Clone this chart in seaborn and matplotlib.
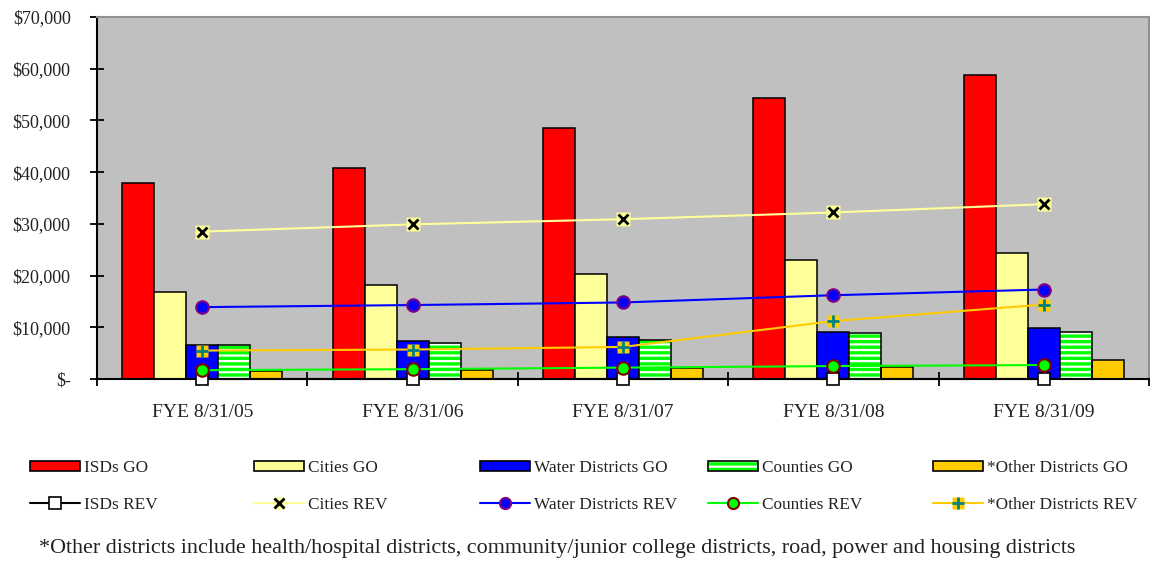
import numpy as np
import pandas as pd
import matplotlib
matplotlib.use("Agg")
import matplotlib.pyplot as plt
from matplotlib.patches import Patch, Rectangle
from matplotlib.lines import Line2D
from matplotlib.ticker import FuncFormatter, MultipleLocator, FixedLocator
import seaborn as sns

# ---- data (thousands of dollars) ----
years = ["FYE 8/31/05", "FYE 8/31/06", "FYE 8/31/07", "FYE 8/31/08", "FYE 8/31/09"]

isds_go = [37900, 40800, 48600, 54300, 58700]
cities_go = [16800, 18200, 20400, 23000, 24400]
water_go = [6600, 7300, 8100, 9100, 9800]
counties_go = [6600, 7000, 7600, 8800, 9000]
other_go = [1500, 1700, 2100, 2400, 3700]

isds_rev = [0, 0, 0, 0, 0]
cities_rev = [28500, 29900, 30900, 32200, 33800]
water_rev = [13900, 14300, 14800, 16200, 17300]
counties_rev = [1700, 1900, 2200, 2500, 2700]
other_rev = [5500, 5700, 6200, 11200, 14400]

go_names = ["ISDs GO", "Cities GO", "Water Districts GO", "Counties GO", "*Other Districts GO"]
rev_names = ["ISDs REV", "Cities REV", "Water Districts REV", "Counties REV", "*Other Districts REV"]
footnote = ("*Other districts include health/hospital districts, community/junior college "
            "districts, road, power and housing districts")

# ---- styling ----
RED, LYELLOW, BLUE, GREEN, GOLD = "#FF0000", "#FFFF99", "#0000FF", "#00FF00", "#FFCC00"
TXT = "#222222"

sns.set_style("ticks")
plt.rcParams["font.family"] = ["Liberation Serif", "DejaVu Serif"]
plt.rcParams["hatch.linewidth"] = 2.4

go_series = [isds_go, cities_go, water_go, counties_go, other_go]
df = pd.DataFrame({
    "year": np.repeat([years], len(go_names), axis=0).ravel(),
    "series": np.repeat(go_names, len(years)),
    "value": np.concatenate(go_series),
})

fig = plt.figure(figsize=(11.5, 5.61), dpi=100)
ax = fig.add_axes([97 / 1150, 1 - 379 / 561, (1149 - 97) / 1150, (379 - 17) / 561])
ax.set_facecolor("#C0C0C0")

palette = dict(zip(go_names, [RED, LYELLOW, BLUE, "white", GOLD]))
sns.barplot(data=df, x="year", y="value", hue="series", hue_order=go_names, order=years,
            palette=palette, saturation=1, width=0.76, edgecolor="black", linewidth=1.1,
            legend=False, ax=ax, zorder=2)

# striped fill for the counties bars, with a black outline on top
for p in ax.containers[3]:
    p.set_facecolor("white")
    p.set_edgecolor(GREEN)
    p.set_hatch("---")
    p.set_linewidth(0)
    ax.add_patch(Rectangle(p.get_xy(), p.get_width(), p.get_height(), fill=False,
                           edgecolor="black", linewidth=1.1, zorder=2.5))

x = np.arange(len(years))
ax.plot(x, isds_rev, color="black", lw=1.5, marker="s", ms=9, mfc="white", mec="black",
        mew=1.2, zorder=5, clip_on=False)
ax.plot(x, cities_rev, color=LYELLOW, lw=1.5, marker="s", ms=9.5, mfc=LYELLOW, mec="none", zorder=5)
ax.plot(x, cities_rev, ls="none", marker="x", ms=7.5, color="black", mew=2, zorder=6)
ax.plot(x, water_rev, color=BLUE, lw=1.5, marker="o", ms=9, mfc=BLUE, mec="#800080", mew=1.5, zorder=5)
ax.plot(x, counties_rev, color=GREEN, lw=1.5, marker="o", ms=9, mfc=GREEN, mec="#800000", mew=1.5, zorder=5)
ax.plot(x, other_rev, color=GOLD, lw=1.5, marker="s", ms=9, mfc=GOLD, mec="none", zorder=5)
ax.plot(x, other_rev, ls="none", marker="+", ms=9, color="#008080", mew=2, zorder=6)

# ---- axes ----
ax.set_xlim(-0.5, len(years) - 0.5)
ax.set_ylim(0, 70000)
ax.yaxis.set_major_locator(MultipleLocator(10000))
ax.yaxis.set_major_formatter(FuncFormatter(lambda v, _: "$-" if v == 0 else f"${v:,.0f}"))
ax.tick_params(axis="y", direction="inout", length=10, width=1.3, color="black",
               labelsize=13, labelcolor=TXT, pad=14)
ax.xaxis.set_minor_locator(FixedLocator(np.arange(-0.5, len(years), 1.0)))
ax.tick_params(axis="x", which="major", length=0, labelsize=14, labelcolor=TXT, pad=18)
ax.tick_params(axis="x", which="minor", direction="inout", length=10, width=1.3, color="black")
ax.set_xlabel("")
ax.set_ylabel("")
for s in ("left", "bottom"):
    ax.spines[s].set_color("black")
    ax.spines[s].set_linewidth(1.5)
for s in ("top", "right"):
    ax.spines[s].set_visible(True)
    ax.spines[s].set_color("#909090")
    ax.spines[s].set_linewidth(1.5)

# ---- legend: one column per district type ----
go_handles = [
    Patch(facecolor=RED, edgecolor="black", lw=1.2),
    Patch(facecolor=LYELLOW, edgecolor="black", lw=1.2),
    Patch(facecolor=BLUE, edgecolor="black", lw=1.2),
    (Patch(facecolor="white", edgecolor=GREEN, hatch="---", lw=0),
     Patch(facecolor="none", edgecolor="black", lw=1.2)),
    Patch(facecolor=GOLD, edgecolor="black", lw=1.2),
]
rev_handles = [
    Line2D([], [], color="black", lw=1.5, marker="s", ms=8, mfc="white", mec="black", mew=1.2),
    (Line2D([], [], color=LYELLOW, lw=1.5, marker="s", ms=8, mfc=LYELLOW, mec="none"),
     Line2D([], [], ls="none", marker="x", ms=6.5, color="black", mew=2)),
    Line2D([], [], color=BLUE, lw=1.5, marker="o", ms=8, mfc=BLUE, mec="#800080", mew=1.5),
    Line2D([], [], color=GREEN, lw=1.5, marker="o", ms=8, mfc=GREEN, mec="#800000", mew=1.5),
    (Line2D([], [], color=GOLD, lw=1.5, marker="s", ms=8, mfc=GOLD, mec="none"),
     Line2D([], [], ls="none", marker="+", ms=8, color="#008080", mew=2)),
]
col_x = [30, 254, 480, 708, 933]
for i in range(len(go_names)):
    leg = fig.legend([go_handles[i], rev_handles[i]], [go_names[i], rev_names[i]],
                     loc="upper left", bbox_to_anchor=(col_x[i] / 1150, 1 - 460 / 561),
                     frameon=False, fontsize=12.4, borderpad=0, borderaxespad=0,
                     handlelength=2.9, handleheight=0.58, handletextpad=0.26,
                     labelspacing=1.22, numpoints=1)
    for t in leg.get_texts():
        t.set_color(TXT)

fig.text(39 / 1150, 1 - 548 / 561, footnote, fontsize=15.9, color=TXT, va="center", ha="left")

fig.savefig("out.png", dpi=100)
